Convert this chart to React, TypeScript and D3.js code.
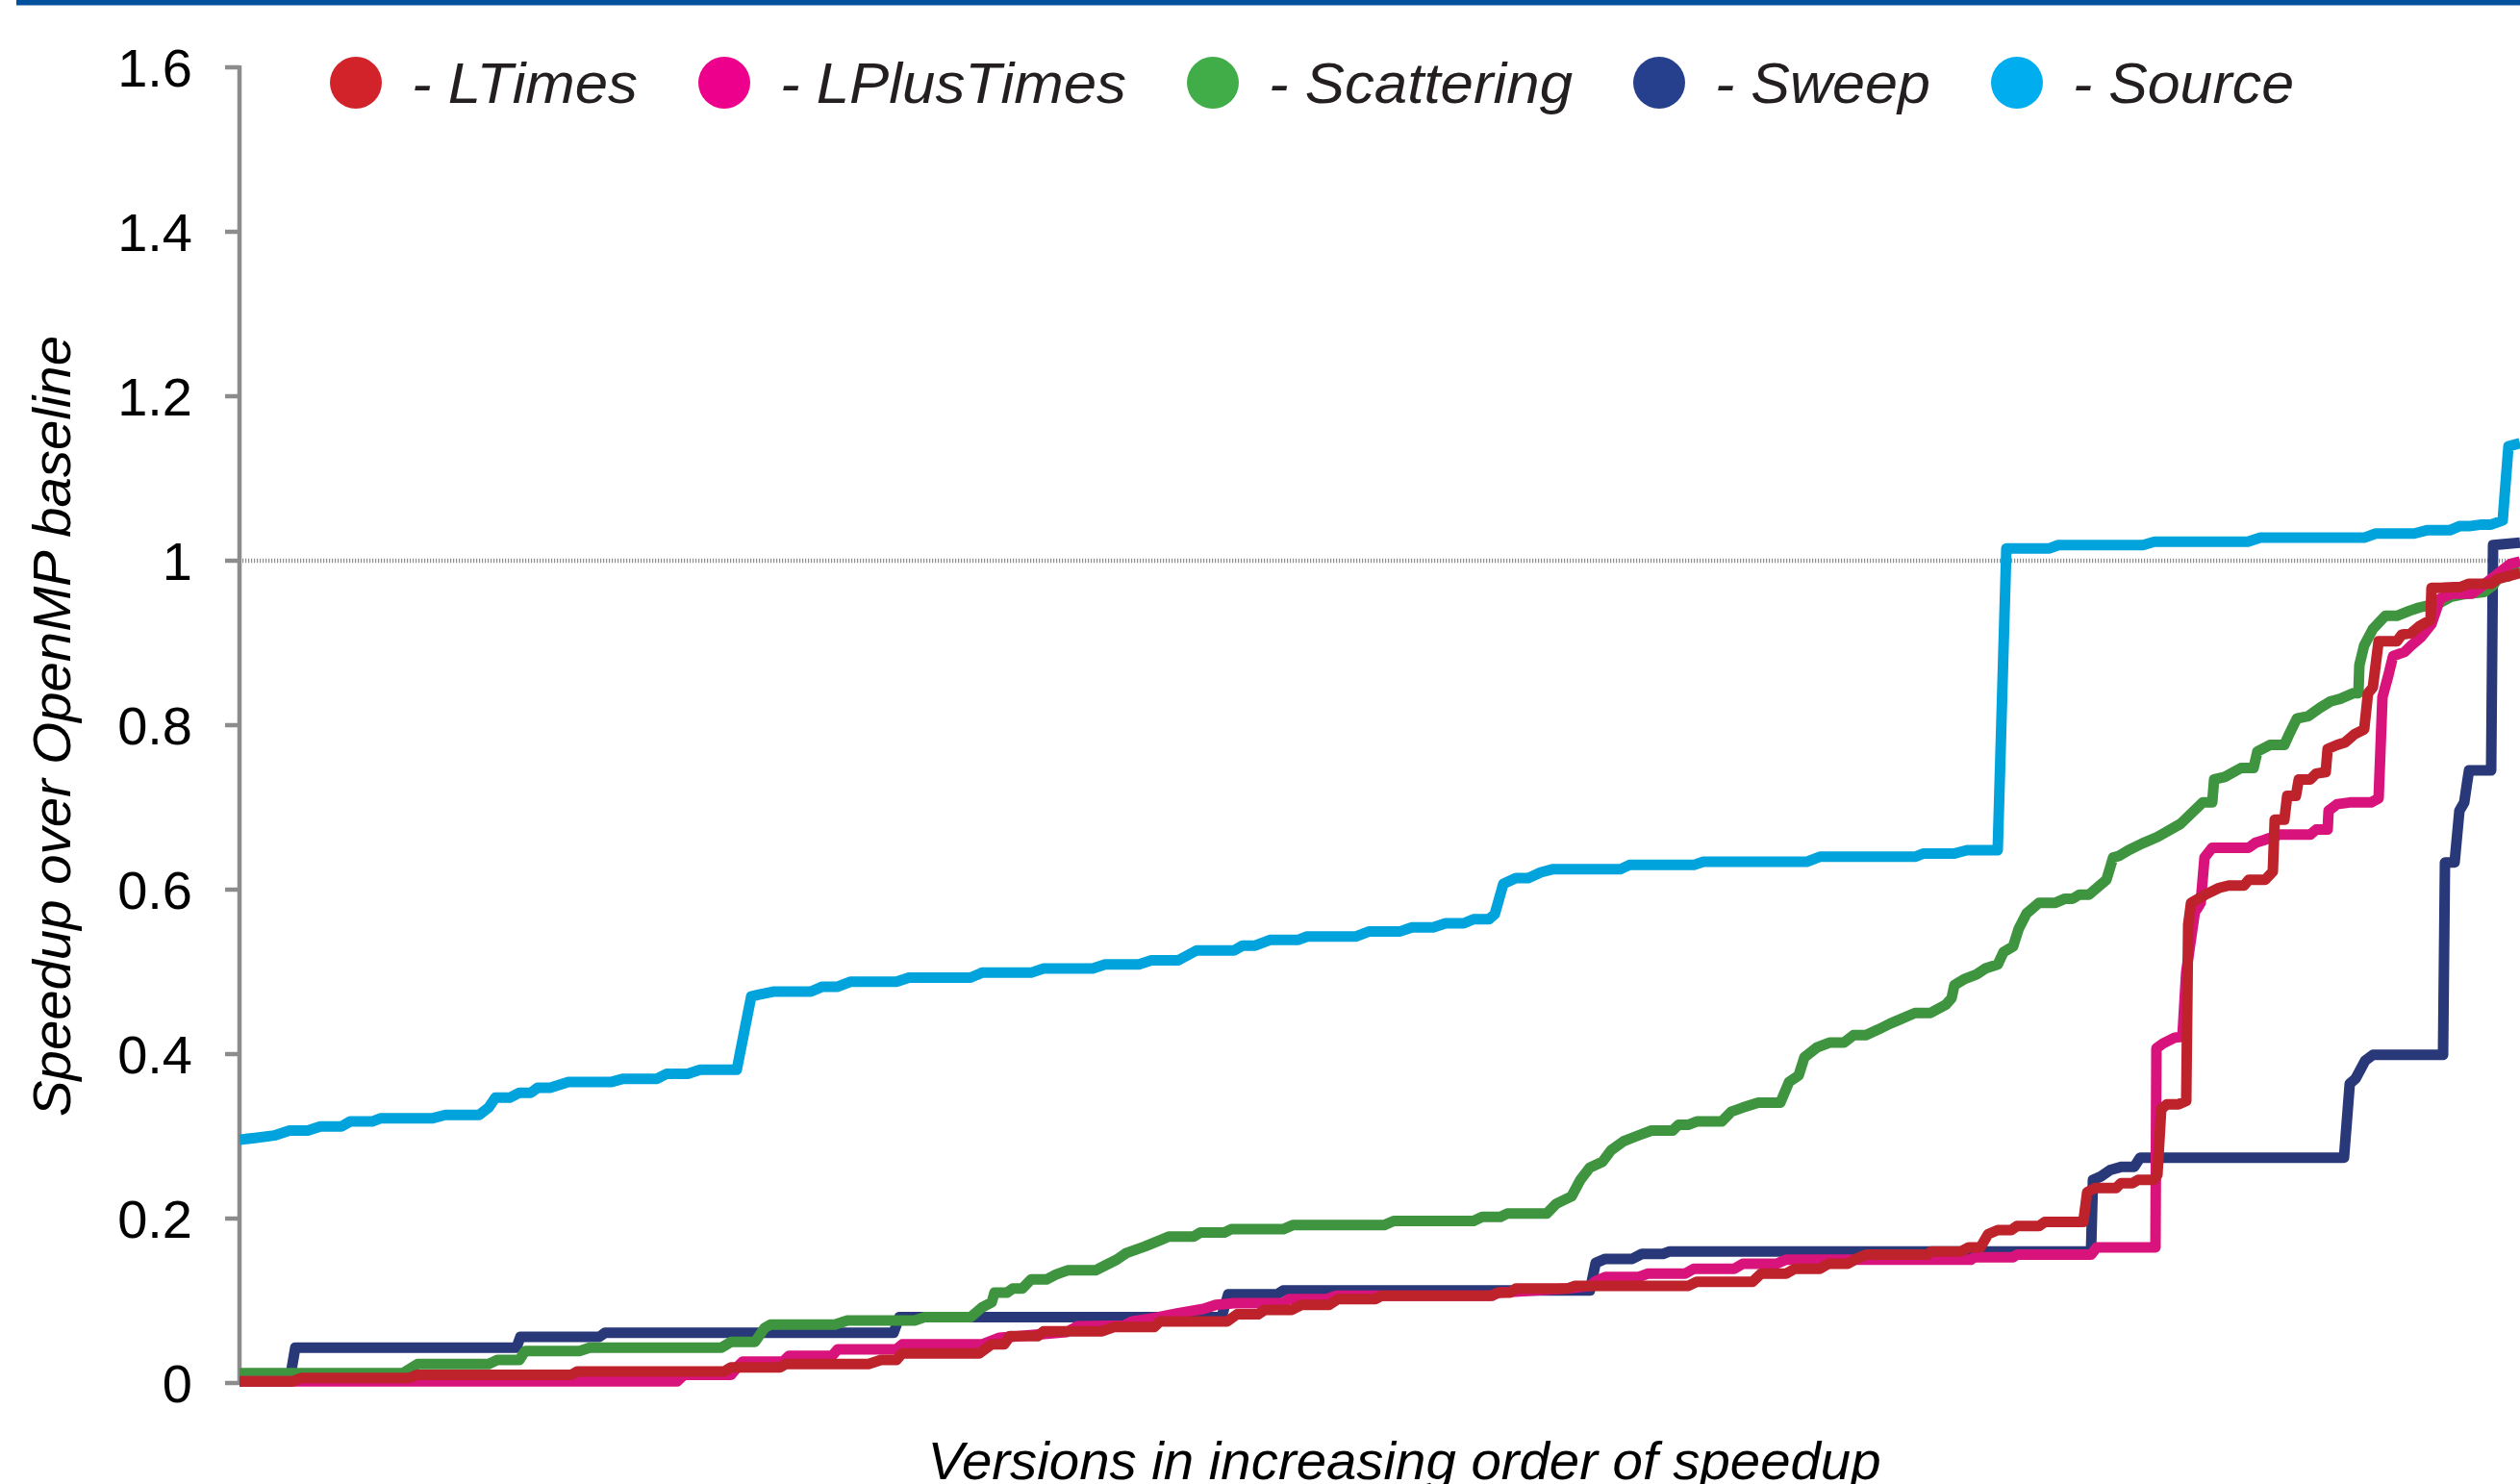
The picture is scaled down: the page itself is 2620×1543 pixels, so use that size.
import React from 'react';
import * as d3 from 'd3';

type Pt = [number, number];

// ---------- data ----------
const seriesNames = ['LTimes', 'LPlusTimes', 'Scattering', 'Sweep', 'Source'];
const lineColors = ['#be222a', '#d9137c', '#3e943f', '#283878', '#00a3dc'];
const legendColors = ['#d2232a', '#ec008c', '#40ad48', '#27408e', '#00aeef'];
const yTicks = [0, 0.2, 0.4, 0.6, 0.8, 1, 1.2, 1.4, 1.6];
const totalVersions = 2371;
const baselineValue = 1;

const ltimes: Pt[] = [[0,.002],[55,.002],[64,.006],[176,.006],[185,.010],[345,.010],[351,.014],[504,.014],[511,.019],[562,.019],[568,.023],[654,.023],[667,.028],[683,.028],[689,.036],[769,.036],[782,.047],[795,.047],[801,.057],[830,.057],[836,.063],[897,.063],[909,.068],[951,.068],[957,.075],[1027,.075],[1037,.0835],[1059,.0835],[1066,.089],[1094,.089],[1104,.095],[1133,.095],[1142,.102],[1181,.102],[1187,.106],[1302,.106],[1308,.110],[1321,.110],[1327,.115],[1381,.115],[1388,.118],[1506,.118],[1515,.123],[1573,.123],[1582,.133],[1608,.133],[1617,.139],[1643,.139],[1652,.145],[1672,.145],[1681,.151],[1691,.156],[1755,.156],[1759,.160],[1790,.160],[1798,.165],[1810,.165],[1818,.181],[1828,.186],[1842,.186],[1848,.191],[1871,.191],[1877,.196],[1917,.196],[1921,.232],[1929,.237],[1951,.237],[1956,.243],[1968,.243],[1974,.247],[1990,.247],[1994,.253],[1998,.333],[2004,.339],[2016,.339],[2024,.343],[2026,.557],[2029,.584],[2044,.594],[2058,.602],[2068,.605],[2084,.605],[2089,.612],[2106,.612],[2114,.622],[2116,.685],[2126,.685],[2129,.714],[2138,.714],[2141,.734],[2153,.734],[2159,.741],[2169,.743],[2171,.771],[2181,.776],[2189,.779],[2199,.789],[2209,.795],[2213,.839],[2218,.846],[2224,.902],[2243,.902],[2248,.910],[2258,.912],[2266,.920],[2278,.928],[2279,.967],[2288,.967],[2309,.968],[2318,.972],[2341,.972],[2348,.978],[2371,.985]];

const lplustimes: Pt[] = [[0,.002],[455,.002],[462,.010],[511,.010],[518,.020],[523,.026],[565,.026],[571,.033],[616,.033],[622,.041],[683,.041],[689,.047],[772,.047],[790,.055],[860,.062],[871,.069],[920,.070],[928,.075],[951,.079],[976,.085],[1002,.090],[1015,.095],[1034,.097],[1085,.097],[1091,.102],[1130,.102],[1140,.106],[1300,.106],[1310,.110],[1380,.115],[1404,.118],[1410,.124],[1420,.129],[1455,.129],[1464,.133],[1503,.133],[1512,.139],[1554,.139],[1563,.145],[1598,.145],[1608,.150],[1800,.150],[1804,.153],[1844,.153],[1848,.156],[1925,.156],[1931,.165],[1992,.165],[1993,.407],[2000,.413],[2012,.420],[2020,.421],[2024,.500],[2033,.573],[2036,.578],[2039,.584],[2043,.639],[2051,.651],[2089,.651],[2096,.657],[2104,.660],[2121,.667],[2153,.667],[2159,.673],[2171,.673],[2172,.696],[2181,.704],[2194,.706],[2216,.706],[2224,.711],[2228,.834],[2234,.860],[2239,.884],[2251,.889],[2258,.897],[2268,.907],[2279,.923],[2288,.954],[2301,.960],[2321,.960],[2328,.966],[2361,.996],[2371,.999]];

const scattering: Pt[] = [[0,.012],[170,.012],[185,.023],[259,.023],[268,.028],[291,.028],[297,.039],[354,.039],[364,.043],[501,.043],[511,.050],[536,.050],[546,.067],[552,.071],[619,.071],[632,.076],[702,.076],[712,.080],[760,.080],[772,.092],[782,.098],[785,.110],[798,.110],[804,.115],[814,.115],[823,.126],[839,.126],[849,.132],[861,.137],[890,.137],[900,.143],[912,.150],[922,.158],[941,.166],[960,.175],[966,.178],[992,.178],[999,.183],[1024,.183],[1031,.187],[1085,.187],[1095,.192],[1190,.192],[1200,.197],[1283,.197],[1292,.202],[1311,.202],[1318,.206],[1359,.206],[1369,.218],[1385,.227],[1394,.247],[1404,.262],[1417,.269],[1426,.283],[1439,.294],[1452,.300],[1468,.307],[1490,.307],[1496,.314],[1506,.314],[1515,.318],[1541,.318],[1551,.330],[1563,.335],[1579,.341],[1602,.341],[1611,.366],[1621,.374],[1627,.396],[1640,.408],[1653,.414],[1668,.414],[1678,.423],[1691,.423],[1704,.430],[1716,.437],[1726,.442],[1742,.450],[1758,.450],[1774,.460],[1780,.468],[1783,.484],[1793,.491],[1806,.497],[1815,.504],[1828,.509],[1834,.524],[1844,.531],[1850,.553],[1858,.571],[1871,.584],[1888,.584],[1898,.589],[1906,.589],[1913,.594],[1923,.594],[1941,.612],[1948,.639],[1954,.641],[1964,.648],[1978,.656],[1994,.664],[2018,.680],[2041,.706],[2051,.706],[2053,.734],[2064,.737],[2081,.748],[2094,.748],[2098,.768],[2111,.776],[2126,.776],[2131,.789],[2139,.808],[2151,.811],[2163,.821],[2174,.829],[2184,.832],[2198,.839],[2203,.839],[2204,.873],[2209,.897],[2218,.917],[2231,.933],[2243,.933],[2256,.939],[2266,.943],[2288,.949],[2299,.956],[2311,.959],[2334,.962],[2343,.970],[2349,.980],[2359,.981],[2371,.991]];

const sweep: Pt[] = [[0,.002],[52,.002],[58,.043],[288,.043],[292,.056],[374,.056],[380,.061],[680,.061],[686,.080],[1021,.080],[1028,.108],[1079,.108],[1085,.1125],[1404,.1125],[1410,.146],[1420,.151],[1448,.151],[1458,.157],[1480,.157],[1487,.160],[1925,.160],[1927,.247],[1935,.251],[1945,.259],[1957,.263],[1970,.263],[1976,.274],[2188,.274],[2194,.364],[2200,.370],[2210,.392],[2218,.399],[2291,.399],[2293,.633],[2303,.633],[2308,.696],[2313,.706],[2316,.730],[2318,.745],[2341,.745],[2343,1.019],[2371,1.022]];

const source: Pt[] = [[0,0.296],[16,0.298],[36,0.301],[52,0.307],[71,0.307],[84,0.312],[106,0.312],[115,0.318],[138,0.318],[147,0.322],[201,0.322],[214,0.326],[249,0.326],[259,0.335],[266,0.347],[281,0.347],[291,0.353],[303,0.353],[310,0.359],[323,0.359],[342,0.366],[386,0.366],[399,0.370],[434,0.370],[444,0.376],[466,0.376],[479,0.381],[517,0.381],[532,0.470],[539,0.472],[555,0.476],[594,0.476],[606,0.482],[622,0.482],[635,0.488],[683,0.488],[696,0.493],[760,0.493],[772,0.499],[823,0.499],[836,0.504],[887,0.504],[900,0.509],[935,0.509],[948,0.514],[976,0.514],[995,0.526],[1034,0.526],[1043,0.532],[1056,0.532],[1072,0.539],[1101,0.539],[1110,0.543],[1161,0.543],[1174,0.549],[1206,0.549],[1219,0.554],[1241,0.554],[1254,0.559],[1273,0.559],[1283,0.564],[1299,0.564],[1305,0.570],[1314,0.607],[1327,0.614],[1340,0.614],[1353,0.621],[1366,0.625],[1436,0.625],[1445,0.630],[1512,0.630],[1522,0.634],[1630,0.634],[1643,0.640],[1742,0.640],[1751,0.644],[1783,0.644],[1796,0.648],[1828,0.648],[1837,1.015],[1882,1.015],[1891,1.019],[1979,1.019],[1991,1.023],[2088,1.023],[2101,1.028],[2209,1.028],[2221,1.033],[2261,1.033],[2274,1.037],[2298,1.037],[2308,1.042],[2318,1.042],[2331,1.044],[2341,1.044],[2353,1.049],[2359,1.139],[2371,1.143]];

const allSeries = [ltimes, lplustimes, scattering, sweep, source];

// ---------- layout ----------
const W = 2620;
const H = 1543;
const M = { left: 249, right: 2620, top: 70, bottom: 1438 };
const narrow = "'Liberation Sans Narrow','Arial Narrow','Liberation Sans',Arial,sans-serif";
const legendTextWidths = [235, 360, 316, 224, 230];

export default function App() {
  const x = d3.scaleLinear().domain([0, totalVersions]).range([M.left, M.right]);
  const y = d3.scaleLinear().domain([0, 1.6]).range([M.bottom, M.top]);
  const line = d3.line<Pt>().x(d => x(d[0])).y(d => y(d[1])).curve(d3.curveLinear);
  const drawOrder = [4, 3, 2, 1, 0];

  const legendItems: { cx: number; tx: number; w: number; i: number }[] = [];
  let cx = 370;
  seriesNames.forEach((_, i) => {
    const tx = cx + 58;
    legendItems.push({ cx, tx, w: legendTextWidths[i], i });
    cx = tx + legendTextWidths[i] + 90;
  });

  return (
    <svg width={W} height={H} style={{ position: 'absolute', left: 0, top: 0, display: 'block', background: '#fff' }}>
      <defs>
        <clipPath id="plotClip">
          <rect x={M.left} y={0} width={M.right - M.left} height={H} />
        </clipPath>
      </defs>
      <rect x={0} y={0} width={W} height={H} fill="#fff" />
      <rect x={17} y={0} width={W - 17} height={5.5} fill="#00509d" />

      {/* baseline at 1 */}
      <line x1={M.left} x2={M.right} y1={y(baselineValue)} y2={y(baselineValue)}
        stroke="#8e8e8e" strokeWidth={4.5} strokeDasharray="1.2 1.8" />

      {/* y axis */}
      <line x1={M.left} x2={M.left} y1={y(1.6) - 2} y2={y(0) + 2} stroke="#8c8c8c" strokeWidth={4.5} />
      {yTicks.map(t => (
        <g key={t}>
          <line x1={M.left - 15} x2={M.left} y1={y(t)} y2={y(t)} stroke="#8c8c8c" strokeWidth={4.5} />
          <text x={200} y={y(t) + 20} textAnchor="end" fontFamily="'Liberation Sans',Arial,sans-serif"
            fontSize={56} fill="#000">{String(+t.toFixed(1))}</text>
        </g>
      ))}

      {/* series */}
      <g clipPath="url(#plotClip)">
        {drawOrder.map(i => (
          <path key={seriesNames[i]} d={line(allSeries[i]) || ''} fill="none" stroke={lineColors[i]}
            strokeWidth={11} strokeLinejoin="round" strokeLinecap="butt" />
        ))}
      </g>

      {/* legend */}
      {legendItems.map(it => (
        <g key={seriesNames[it.i]}>
          <circle cx={it.cx} cy={86} r={27} fill={legendColors[it.i]} />
          <text x={it.tx} y={107} fontFamily={narrow} fontStyle="italic" fontSize={60} fill="#231f20"
            textLength={it.w} lengthAdjust="spacingAndGlyphs">{`- ${seriesNames[it.i]}`}</text>
        </g>
      ))}

      {/* axis titles */}
      <text transform={`translate(73,755) rotate(-90)`} textAnchor="middle" fontFamily={narrow} fontStyle="italic"
        fontSize={56} fill="#000" textLength={812} lengthAdjust="spacingAndGlyphs">Speedup over OpenMP baseline</text>
      <text x={1460} y={1538} textAnchor="middle" fontFamily={narrow} fontStyle="italic" fontSize={56} fill="#000"
        textLength={991} lengthAdjust="spacingAndGlyphs">Versions in increasing order of speedup</text>
    </svg>
  );
}
